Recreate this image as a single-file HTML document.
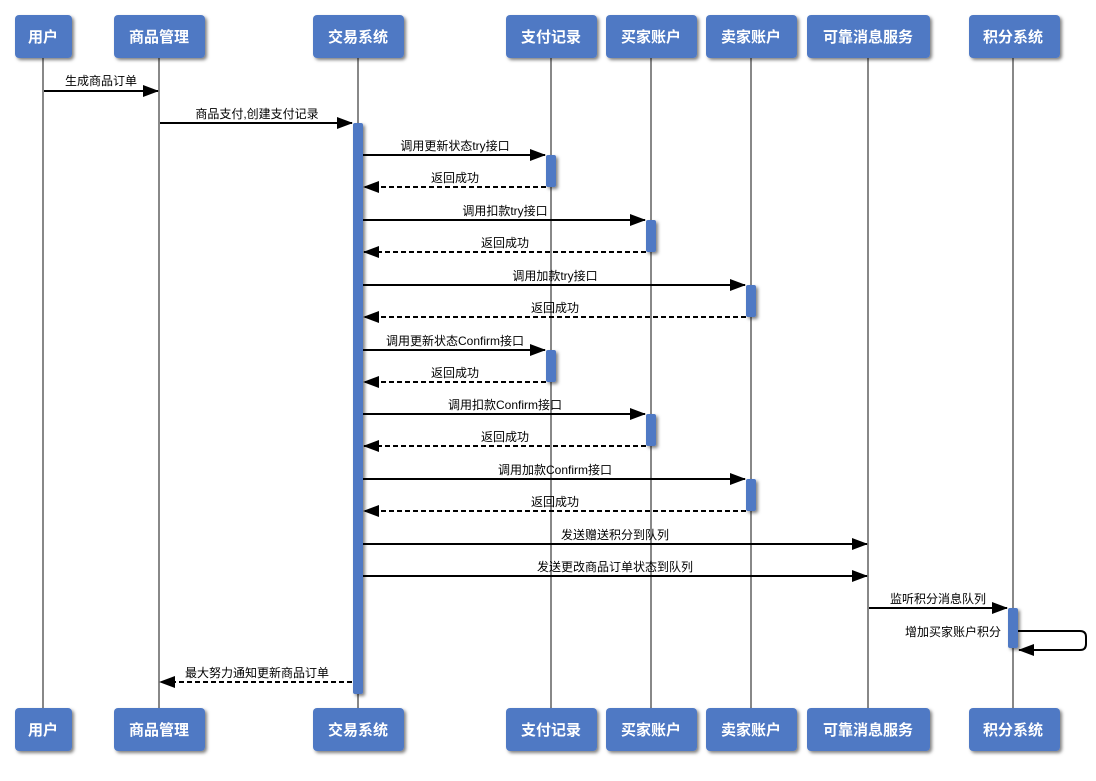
<!DOCTYPE html>
<html><head><meta charset="utf-8"><style>
html,body{margin:0;padding:0;background:#fff}
text{font-family:"Liberation Sans","Noto Sans CJK SC",sans-serif}
</style></head><body>
<svg width="1096" height="776" xmlns="http://www.w3.org/2000/svg">
<defs>
<marker id="a" markerWidth="16" markerHeight="12" refX="15" refY="6" orient="auto" markerUnits="userSpaceOnUse"><path d="M0,0 L16,6 L0,12 z" fill="#000"/></marker>
<filter id="s" x="-10%" y="-10%" width="130%" height="140%"><feDropShadow dx="2" dy="2" stdDeviation="1.5" flood-color="#000" flood-opacity="0.5"/></filter>
</defs>
<g stroke="#888" stroke-width="2">
<line x1="43" y1="58" x2="43" y2="708"/><line x1="159" y1="58" x2="159" y2="708"/><line x1="358" y1="58" x2="358" y2="708"/><line x1="551" y1="58" x2="551" y2="708"/><line x1="651" y1="58" x2="651" y2="708"/><line x1="751" y1="58" x2="751" y2="708"/><line x1="868" y1="58" x2="868" y2="708"/><line x1="1013" y1="58" x2="1013" y2="708"/>
</g>
<g fill="#4f79c4" filter="url(#s)">
<rect x="15" y="15" width="57" height="43" rx="4"/><rect x="114" y="15" width="91" height="43" rx="4"/><rect x="313" y="15" width="91" height="43" rx="4"/><rect x="506" y="15" width="91" height="43" rx="4"/><rect x="606" y="15" width="91" height="43" rx="4"/><rect x="706" y="15" width="91" height="43" rx="4"/><rect x="807" y="15" width="123" height="43" rx="4"/><rect x="969" y="15" width="91" height="43" rx="4"/>
<rect x="15" y="708" width="57" height="43" rx="4"/><rect x="114" y="708" width="91" height="43" rx="4"/><rect x="313" y="708" width="91" height="43" rx="4"/><rect x="506" y="708" width="91" height="43" rx="4"/><rect x="606" y="708" width="91" height="43" rx="4"/><rect x="706" y="708" width="91" height="43" rx="4"/><rect x="807" y="708" width="123" height="43" rx="4"/><rect x="969" y="708" width="91" height="43" rx="4"/>
<rect x="353" y="123" width="10" height="571" rx="2"/>
<rect x="546" y="155" width="10" height="32" rx="2"/><rect x="546" y="350" width="10" height="32" rx="2"/>
<rect x="646" y="220" width="10" height="32" rx="2"/><rect x="646" y="414" width="10" height="32" rx="2"/>
<rect x="746" y="285" width="10" height="32" rx="2"/><rect x="746" y="479" width="10" height="32" rx="2"/>
<rect x="1008" y="608" width="10" height="40" rx="2"/>
</g>
<g fill="#fff" font-size="15" font-weight="bold" text-anchor="middle">
<text x="43" y="42">用户</text><text x="159" y="42">商品管理</text><text x="358" y="42">交易系统</text><text x="551" y="42">支付记录</text><text x="651" y="42">买家账户</text><text x="751" y="42">卖家账户</text><text x="868" y="42">可靠消息服务</text><text x="1013" y="42">积分系统</text>
<text x="43" y="735">用户</text><text x="159" y="735">商品管理</text><text x="358" y="735">交易系统</text><text x="551" y="735">支付记录</text><text x="651" y="735">买家账户</text><text x="751" y="735">卖家账户</text><text x="868" y="735">可靠消息服务</text><text x="1013" y="735">积分系统</text>
</g>
<g stroke="#000" stroke-width="2" fill="none" marker-end="url(#a)">
<line x1="44" y1="91" x2="158" y2="91"/>
<line x1="160" y1="123" x2="352" y2="123"/>
<line x1="363" y1="155" x2="545" y2="155"/>
<line x1="546" y1="187" x2="364" y2="187" stroke-dasharray="5,3"/>
<line x1="363" y1="220" x2="645" y2="220"/>
<line x1="646" y1="252" x2="364" y2="252" stroke-dasharray="5,3"/>
<line x1="363" y1="285" x2="745" y2="285"/>
<line x1="746" y1="317" x2="364" y2="317" stroke-dasharray="5,3"/>
<line x1="363" y1="350" x2="545" y2="350"/>
<line x1="546" y1="382" x2="364" y2="382" stroke-dasharray="5,3"/>
<line x1="363" y1="414" x2="645" y2="414"/>
<line x1="646" y1="446" x2="364" y2="446" stroke-dasharray="5,3"/>
<line x1="363" y1="479" x2="745" y2="479"/>
<line x1="746" y1="511" x2="364" y2="511" stroke-dasharray="5,3"/>
<line x1="363" y1="544" x2="867" y2="544"/>
<line x1="363" y1="576" x2="867" y2="576"/>
<line x1="869" y1="608" x2="1007" y2="608"/>
<path d="M1018,631 H1080 Q1086,631 1086,637 V644 Q1086,650 1080,650 H1019"/>
<line x1="352" y1="682" x2="160" y2="682" stroke-dasharray="5,3"/>
</g>
<g font-size="12" text-anchor="middle" fill="#000">
<text x="101" y="85">生成商品订单</text>
<text x="257" y="118">商品支付,创建支付记录</text>
<text x="455" y="150">调用更新状态try接口</text>
<text x="455" y="182">返回成功</text>
<text x="505" y="215">调用扣款try接口</text>
<text x="505" y="247">返回成功</text>
<text x="555" y="280">调用加款try接口</text>
<text x="555" y="312">返回成功</text>
<text x="455" y="345">调用更新状态Confirm接口</text>
<text x="455" y="377">返回成功</text>
<text x="505" y="409">调用扣款Confirm接口</text>
<text x="505" y="441">返回成功</text>
<text x="555" y="474">调用加款Confirm接口</text>
<text x="555" y="506">返回成功</text>
<text x="615" y="539">发送赠送积分到队列</text>
<text x="615" y="571">发送更改商品订单状态到队列</text>
<text x="938" y="603">监听积分消息队列</text>
<text x="1001" y="636" text-anchor="end">增加买家账户积分</text>
<text x="257" y="677">最大努力通知更新商品订单</text>
</g>
</svg>
</body></html>
